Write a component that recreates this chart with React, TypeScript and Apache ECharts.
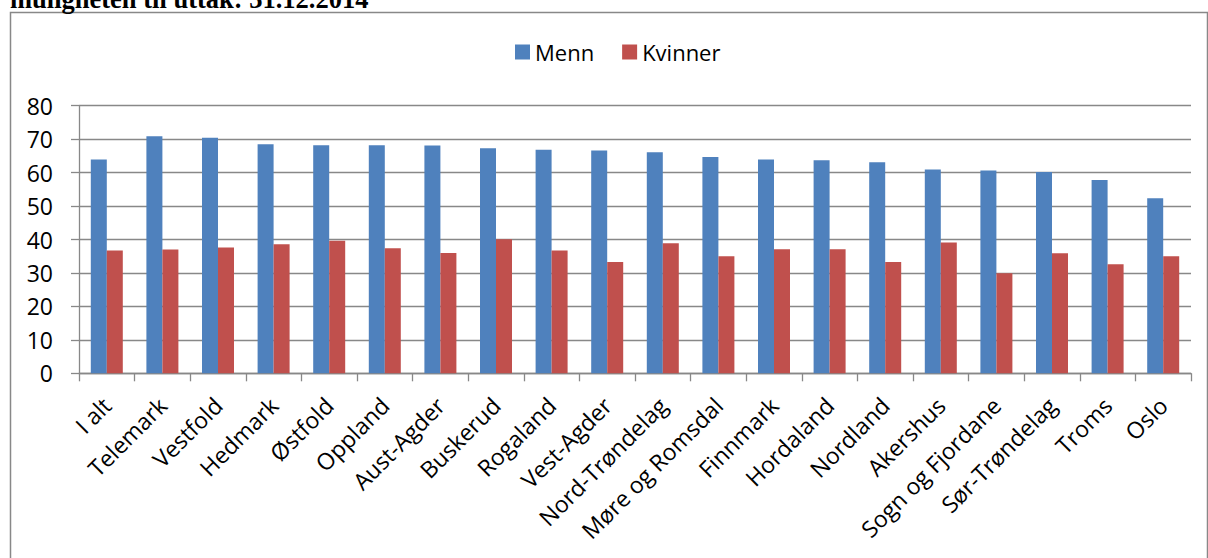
import React, { useEffect, useRef } from "react";
import * as echarts from "echarts";

const categories = [
  "I alt", "Telemark", "Vestfold", "Hedmark", "Østfold", "Oppland", "Aust-Agder",
  "Buskerud", "Rogaland", "Vest-Agder", "Nord-Trøndelag", "Møre og Romsdal",
  "Finnmark", "Hordaland", "Nordland", "Akershus", "Sogn og Fjordane",
  "Sør-Trøndelag", "Troms", "Oslo",
];
const menn = [
  63.9, 70.9, 70.4, 68.5, 68.2, 68.2, 68.1, 67.3, 66.8, 66.6, 66.1, 64.7,
  63.9, 63.7, 63.1, 60.9, 60.6, 60.2, 57.8, 52.3,
];
const kvinner = [
  36.7, 37.0, 37.6, 38.6, 39.6, 37.4, 36.0, 40.1, 36.7, 33.3, 38.9, 35.0,
  37.1, 37.1, 33.3, 39.1, 29.9, 35.9, 32.6, 35.0,
];
const seriesNames = ["Menn", "Kvinner"];
const yTicks = { min: 0, max: 80, interval: 10 };
const titleText = "muligheten til uttak: 31.12.2014";

export default function App() {
  const ref = useRef<HTMLDivElement>(null);
  useEffect(() => {
    if (!ref.current) return;
    const chart = echarts.init(ref.current, null, { renderer: "svg" });
    const font = '"Open Sans", sans-serif';
    const gray = "#888888";
    chart.setOption({
      animation: false,
      backgroundColor: "#ffffff",
      graphic: [
        {
          type: "rect",
          shape: { x: 10.5, y: 12.5, width: 1197, height: 560 },
          style: { fill: "none", stroke: gray, lineWidth: 1.5 },
          z: -1,
        },
        {
          type: "text",
          x: 10,
          y: -1,
          style: {
            text: titleText,
            font: 'bold 26.5px "Liberation Serif", serif',
            fill: "#000",
            verticalAlign: "middle",
            align: "left",
          },
        },
      ],
      legend: {
        left: 510,
        top: 36,
        itemWidth: 15,
        itemHeight: 15,
        itemGap: 28,
        icon: "rect",
        data: seriesNames,
        textStyle: { fontFamily: font, fontSize: 22, color: "#000" },
      },
      grid: { left: 79, right: 17, top: 105.7, bottom: 184.7, containLabel: false },
      xAxis: {
        type: "category",
        data: categories,
        boundaryGap: true,
        axisLine: { lineStyle: { color: gray, width: 1.3 } },
        axisTick: { show: true, length: 8, alignWithLabel: false, interval: 0, lineStyle: { color: gray, width: 1.3 } },
        axisLabel: {
          interval: 0,
          rotate: 45,
          margin: 28,
          fontFamily: font,
          fontSize: 23,
          color: "#000",
        },
      },
      yAxis: {
        type: "value",
        min: yTicks.min,
        max: yTicks.max,
        interval: yTicks.interval,
        axisLine: { show: true, lineStyle: { color: gray, width: 1.3 } },
        axisTick: { show: true, length: 8, lineStyle: { color: gray, width: 1.3 } },
        splitLine: { show: true, lineStyle: { color: gray, width: 1.3 } },
        axisLabel: { margin: 26, fontFamily: font, fontSize: 23, color: "#000" },
      },
      series: [
        {
          name: seriesNames[0],
          type: "bar",
          data: menn,
          barWidth: 16,
          barGap: "0%",
          itemStyle: { color: "#4F81BD" },
        },
        {
          name: seriesNames[1],
          type: "bar",
          data: kvinner,
          barWidth: 16,
          barGap: "0%",
          itemStyle: { color: "#C0504D" },
        },
      ],
    });
    return () => chart.dispose();
  }, []);
  return (
    <div
      ref={ref}
      style={{ position: "fixed", left: 0, top: 0, width: 1208, height: 558 }}
    />
  );
}
